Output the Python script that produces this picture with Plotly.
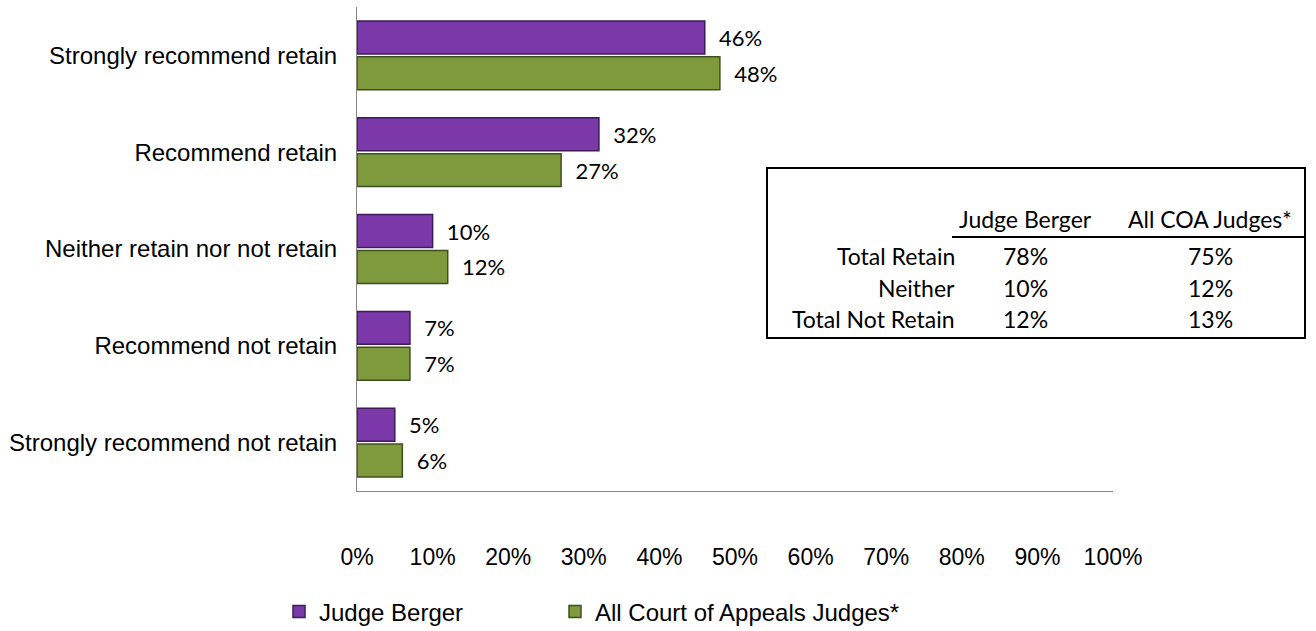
import plotly.graph_objects as go

categories = ["Strongly recommend retain", "Recommend retain", "Neither retain nor not retain",
              "Recommend not retain", "Strongly recommend not retain"]
berger = [0.46, 0.32, 0.10, 0.07, 0.05]
all_coa = [0.48, 0.27, 0.12, 0.07, 0.06]
series_names = ["Judge Berger", "All Court of Appeals Judges*"]

table_cols = ["Judge Berger", "All COA Judges*"]
table_rows = ["Total Retain", "Neither", "Total Not Retain"]
table_berger = ["78%", "10%", "12%"]
table_all = ["75%", "12%", "13%"]

W, H = 1316, 631
L, R, T, B = 357, 203, 7, 140
pw, ph = W - L - R, H - T - B

def px(x):
    return (x - L) / pw

def py(y):
    return (H - B - y) / ph

fig = go.Figure()
colors = [("#7B38A8", "#3E1A5A"), ("#7E9A3D", "#3F5020")]
legends = ["legend", "legend2"]
for name, vals, (c, lc), lg in zip(series_names, [berger, all_coa], colors, legends):
    fig.add_trace(go.Bar(
        y=categories, x=vals, name=name, orientation="h", legend=lg,
        marker=dict(color=c, line=dict(color=lc, width=1.5)),
        text=[f"{round(v*100)}%" for v in vals], textposition="outside",
        texttemplate="  %{text}", cliponaxis=False,
        textfont=dict(family="Lato, Open Sans, sans-serif", size=22, color="#000"),
    ))

fig.update_layout(
    width=W, height=H, barmode="group", bargap=0.26, bargroupgap=0.08,
    plot_bgcolor="white", paper_bgcolor="white",
    margin=dict(l=L, r=R, t=T, b=B, autoexpand=False),
    font=dict(family="Liberation Sans, Arial, sans-serif", size=24, color="#000"),
    xaxis=dict(range=[0, 1], tickvals=[i/10 for i in range(11)], tickformat=".0%",
               showgrid=False, zeroline=False, showline=True, linecolor="#868686",
               linewidth=1, ticks="", ticklabelstandoff=45,
               tickfont=dict(size=23)),
    yaxis=dict(autorange="reversed", showline=True, linecolor="#868686", linewidth=1,
               ticks="", showgrid=False, ticklabelstandoff=14, tickfont=dict(size=24)),
    legend=dict(orientation="h", x=px(279), xanchor="left", y=py(612), yanchor="middle",
                font=dict(size=24), itemwidth=30),
    legend2=dict(orientation="h", x=px(555), xanchor="left", y=py(612), yanchor="middle",
                 font=dict(size=24), itemwidth=30),
    showlegend=True,
)

# inset table
shapes = [
    dict(type="rect", xref="paper", yref="paper", x0=px(767), x1=px(1305), y0=py(338), y1=py(168),
         line=dict(color="black", width=2), fillcolor="white", layer="above"),
    dict(type="line", xref="paper", yref="paper", x0=px(952), x1=px(1305), y0=py(237), y1=py(237),
         line=dict(color="black", width=2)),
]
ann = []
tfont = dict(family="Lato, Open Sans, sans-serif", size=23, color="#000")
col_x = [px(1025), px(1210)]
for cx, lab in zip(col_x, table_cols):
    ann.append(dict(xref="paper", yref="paper", x=cx, y=py(219), text=lab, showarrow=False,
                    font=tfont, xanchor="center", yanchor="middle"))
row_y = [256, 288, 319]
for ry, lab, v1, v2 in zip(row_y, table_rows, table_berger, table_all):
    ann.append(dict(xref="paper", yref="paper", x=px(957), y=py(ry), text=lab, showarrow=False,
                    font=tfont, xanchor="right", yanchor="middle"))
    ann.append(dict(xref="paper", yref="paper", x=col_x[0], y=py(ry), text=v1, showarrow=False,
                    font=tfont, xanchor="center", yanchor="middle"))
    ann.append(dict(xref="paper", yref="paper", x=col_x[1], y=py(ry), text=v2, showarrow=False,
                    font=tfont, xanchor="center", yanchor="middle"))
fig.update_layout(shapes=shapes, annotations=ann)

fig.write_html("out.html", config={"displayModeBar": False},
               post_script="document.body.style.margin='0';")
